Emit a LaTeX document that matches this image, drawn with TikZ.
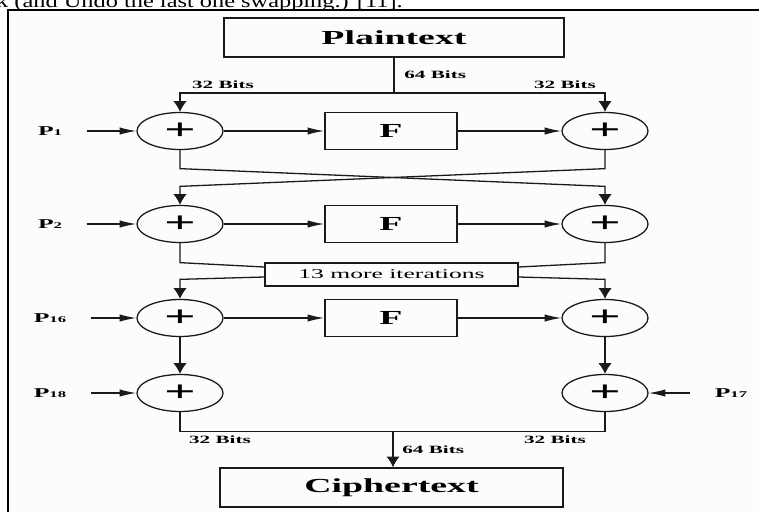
\documentclass[tikz,border=0pt]{standalone}
\usepackage{fontspec}
\setmainfont{Liberation Serif}
\newfontfamily\wideserif[FakeStretch=1.9]{Liberation Serif}
\newfontfamily\textserif[FakeStretch=1.3]{Liberation Serif}
\usetikzlibrary{arrows.meta,shapes.geometric}
\definecolor{paper}{HTML}{FDFCFA}
\definecolor{ink}{HTML}{1A1A1A}
\newcommand\pidx[1]{P{\fontsize{7.5}{8}\selectfont#1}}

\begin{document}
\begin{tikzpicture}[x=0.3mm,y=-0.3mm,
  box/.style={draw=ink,line width=1.3pt,inner sep=0pt},
  xorop/.style={ellipse,draw=ink,line width=1.1pt,minimum width=25.8mm,minimum height=11.1mm,inner sep=0pt,font=\wideserif\bfseries\fontsize{25}{25}\selectfont},
  wire/.style={draw=ink,line width=1.1pt},
  harr/.style={wire,-{Latex[length=5mm,width=2.2mm]}},
  varr/.style={wire,-{Latex[length=3.2mm,width=4mm]}},
  bits/.style={font=\wideserif\bfseries\fontsize{9.5}{10}\selectfont,inner sep=1pt},
  keyname/.style={font=\wideserif\bfseries\fontsize{11.5}{12}\selectfont,inner sep=1pt}]
\useasboundingbox (0,0) rectangle (759,512);
% page and frame
\fill[paper] (8,10) rectangle (759,512);
\draw[line width=1.8pt] (8,512) -- (8,10) -- (759,10);
\node[anchor=base west,inner sep=0pt,font=\textserif\fontsize{16}{16}\selectfont] (caption) at (-4,7) {k (and Undo the last one swapping.) [11].};
% in and out blocks
\node[box,minimum width=102mm,minimum height=11.7mm,font=\wideserif\bfseries\fontsize{17}{20}\selectfont] (plain) at (394,37.5) {Plaintext};
\node[box,minimum width=102.9mm,minimum height=11.7mm,font=\wideserif\bfseries\fontsize{17}{20}\selectfont] (cipher) at (391.5,487.5) {Ciphertext};
\node[box,line width=1.1pt,minimum width=75.9mm,minimum height=6.9mm,font=\wideserif\fontsize{11.5}{12}\selectfont] (iter) at (391.5,274.5) {13 more iterations};
% three rounds with F
\foreach \r/\y/\k in {1/131/1,2/224/2,3/318/16}{
  \node[xorop] (xl\r) at (180,\y) {+};
  \node[xorop] (xr\r) at (605,\y) {+};
  \node[box,minimum width=39.6mm,minimum height=11.1mm,font=\wideserif\bfseries\fontsize{17}{20}\selectfont] (f\r) at (391,\y) {F};
  \node[keyname] (p\r) at (50,\y) {\pidx{\k}};
  \draw[harr,shorten <=7mm] (p\r.east) -- (xl\r.west);
  \draw[harr] (xl\r) -- (f\r);
  \draw[harr] (f\r) -- (xr\r);
}
% last whitening step
\node[xorop] (xl4) at (180,393) {+};
\node[xorop] (xr4) at (605,393) {+};
\node[keyname] (p4) at (50,393) {\pidx{18}};
\node[keyname] (p5) at (731,393) {\pidx{17}};
\draw[harr,shorten <=7mm] (p4.east) -- (xl4.west);
\draw[harr,shorten <=7mm] (p5.west) -- (xr4.east);
% split of the plaintext
\coordinate (split) at (394,93);
\draw[wire] (plain) -- (split);
\draw[varr] (split) -| (xl1.north);
\draw[varr] (split) -| (xr1.north);
\node[bits,anchor=west] (b64a) at (403,75) {64 Bits};
\node[bits] (b32a) at (223,85) {32 Bits};
\node[bits] (b32b) at (565,85) {32 Bits};
% swap of the halves
\draw[varr] (xl1.south) -- ++(0,18.5) -- ([yshift=5.55mm]xr2.north) -- (xr2.north);
\draw[varr] (xr1.south) -- ++(0,18.5) -- ([yshift=5.55mm]xl2.north) -- (xl2.north);
\draw[wire] (xl2.south) -- ++(0,19.5) -- ([yshift=2.25mm]iter.west);
\draw[wire] (xr2.south) -- ++(0,19.5) -- ([yshift=2.25mm]iter.east);
\draw[varr] ([yshift=-0.75mm]iter.west) -- ([yshift=5.85mm]xl3.north) -- (xl3.north);
\draw[varr] ([yshift=-0.75mm]iter.east) -- ([yshift=5.85mm]xr3.north) -- (xr3.north);
\draw[varr] (xl3) -- (xl4);
\draw[varr] (xr3) -- (xr4);
% join into the ciphertext
\coordinate (merge) at (393,431);
\draw[wire] (xl4.south) -- ++(0,19.5) -| (xr4.south);
\draw[varr] (merge) -- (merge |- cipher.north);
\node[bits,anchor=west] (b64b) at (401,450) {64 Bits};
\node[bits] (b32c) at (220,440) {32 Bits};
\node[bits] (b32d) at (555,440) {32 Bits};
\end{tikzpicture}
\end{document}
